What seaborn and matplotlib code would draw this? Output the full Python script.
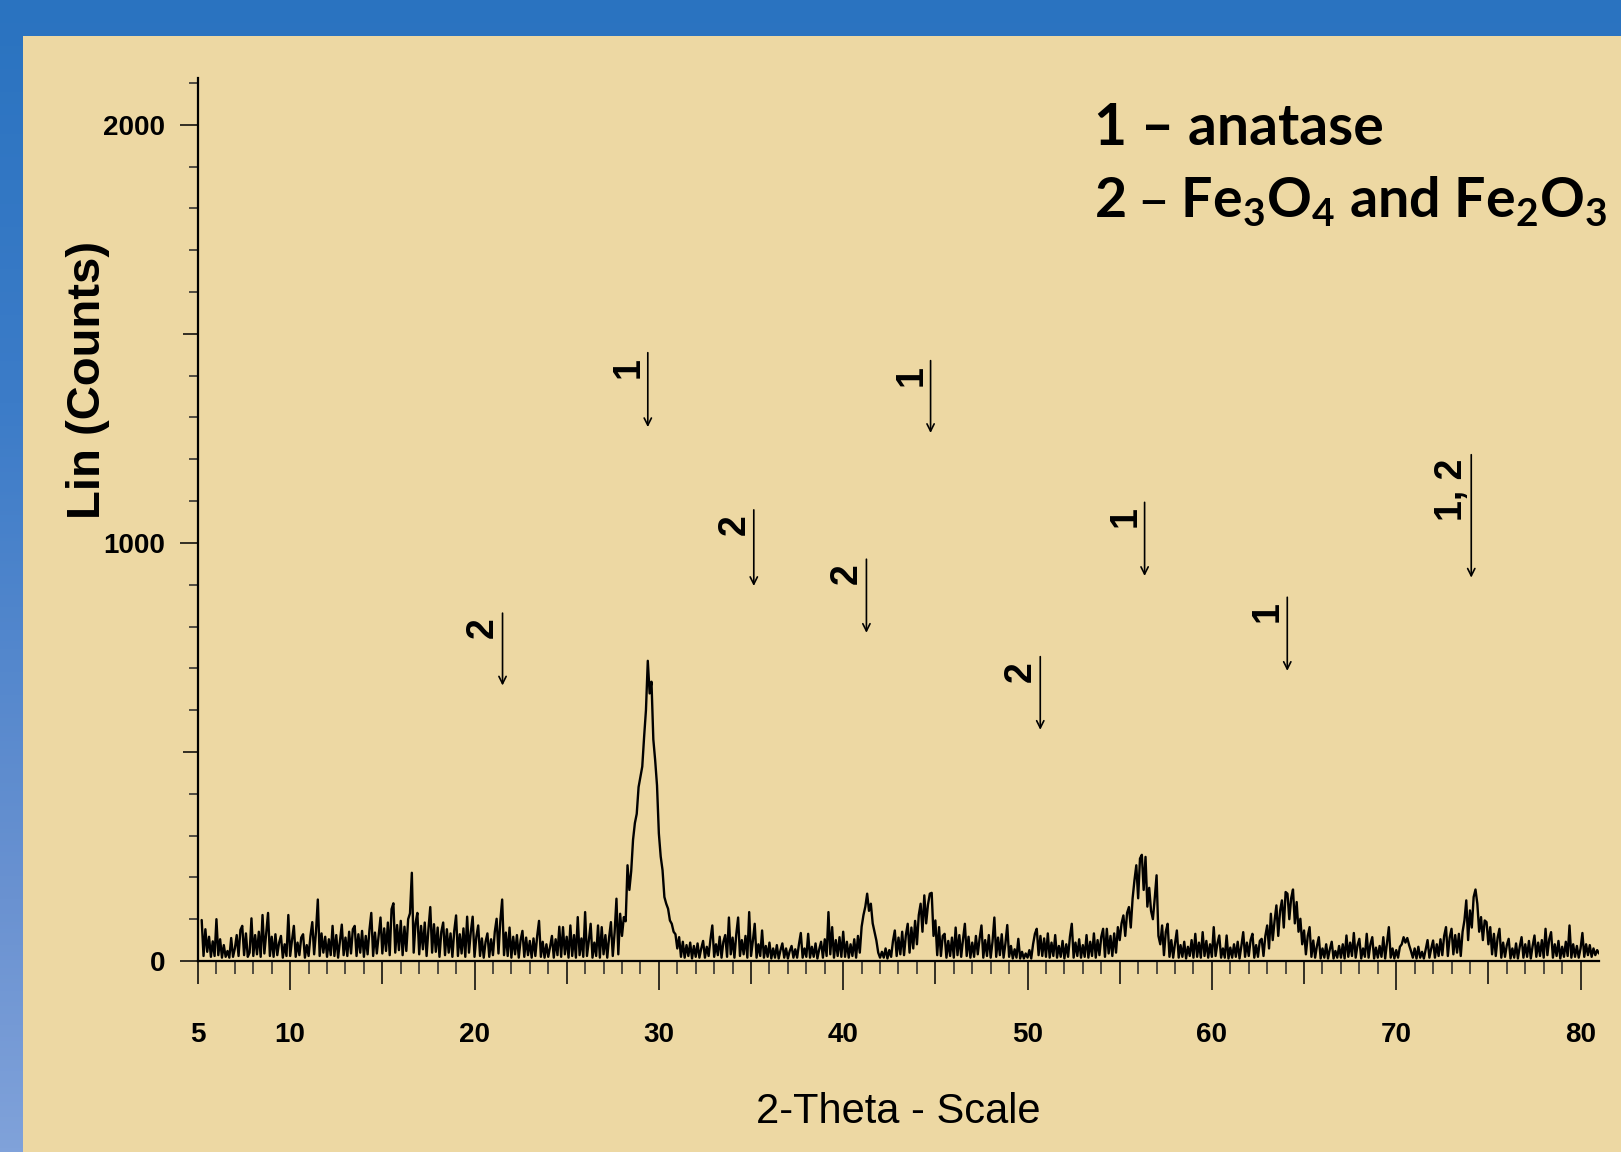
import numpy as np
import pandas as pd
import matplotlib
matplotlib.use("Agg")
import matplotlib.pyplot as plt
from matplotlib.patches import Rectangle
import seaborn as sns

# ---------------- data ----------------
# XRD counts, step 0.1 deg, each list starts at the given 2-theta
seg_05_start = 5.2
seg_05 = [98, 12, 76, 22, 58, 10, 47, 12,
          100, 14, 52, 8, 38, 10, 24, 8, 55, 10,
          30, 62, 12, 74, 84, 14, 66, 10, 20, 102,
          12, 62, 16, 70, 10, 110, 18, 68, 115, 12,
          58, 10, 64, 14, 44, 60, 8, 40, 12, 110]
seg_10_start = 10.0
seg_10 = [12, 50, 84, 10, 44, 14, 56, 64, 8, 38,
          12, 60, 93, 16, 70, 147, 12, 66, 20, 58,
          10, 52, 14, 84, 12, 62, 8, 48, 87, 14,
          56, 12, 70, 18, 76, 84, 12, 64, 20, 72,
          10, 60, 16, 74, 115, 12, 68, 18, 62, 104]
seg_15_start = 15.0
seg_15 = [18, 78, 24, 92, 14, 124, 138, 20, 86, 26,
          96, 14, 82, 24, 100, 114, 211, 20, 90, 115,
          16, 84, 28, 92, 12, 76, 129, 20, 88, 22,
          80, 10, 70, 92, 14, 76, 20, 66, 10, 72,
          109, 12, 64, 18, 78, 10, 106, 20, 70, 106]
seg_20_start = 20.0
seg_20 = [10, 58, 85, 12, 54, 8, 46, 66, 10, 52,
          14, 70, 101, 18, 96, 147, 14, 68, 12, 80,
          8, 58, 16, 62, 8, 50, 72, 10, 56, 14,
          48, 8, 54, 12, 60, 96, 10, 46, 8, 40,
          10, 34, 60, 8, 52, 14, 82, 10, 81, 16]
seg_25_start = 25.0
seg_25 = [58, 8, 85, 12, 62, 8, 105, 14, 54, 10,
          117, 12, 48, 89, 8, 44, 12, 85, 8, 81,
          16, 62, 8, 56, 93, 12, 68, 149, 16, 113,
          60, 105, 95, 229, 170, 215, 290, 330, 352, 416,
          440, 465, 536, 600, 718, 640, 668, 530, 480, 420]
seg_30_start = 30.0
seg_30 = [305, 250, 217, 153, 137, 125, 97, 89, 70, 64,
          30, 57, 10, 46, 8, 38, 12, 44, 6, 36,
          10, 42, 8, 30, 48, 8, 34, 12, 52, 85,
          10, 40, 14, 58, 8, 46, 62, 10, 104, 16,
          56, 8, 64, 104, 12, 50, 16, 60, 8, 117]
seg_35_start = 35.0
seg_35 = [12, 48, 89, 8, 40, 12, 73, 8, 36, 10,
          44, 6, 30, 8, 38, 6, 26, 42, 8, 30,
          6, 24, 36, 8, 28, 8, 40, 67, 8, 30,
          10, 65, 8, 34, 10, 42, 6, 28, 46, 8,
          52, 12, 117, 16, 81, 8, 50, 12, 57, 10]
seg_40_start = 40.0
seg_40 = [70, 10, 46, 8, 40, 12, 52, 8, 60, 20,
          82, 110, 130, 161, 120, 137, 90, 70, 49, 20,
          8, 22, 8, 30, 6, 26, 10, 48, 73, 12,
          56, 16, 70, 14, 62, 89, 20, 80, 30, 96,
          40, 110, 137, 70, 157, 90, 135, 161, 163, 60]
seg_45_start = 45.0
seg_45 = [97, 14, 81, 12, 60, 65, 8, 48, 12, 56,
          8, 80, 14, 62, 10, 52, 89, 12, 58, 8,
          44, 10, 60, 16, 54, 85, 8, 50, 12, 62,
          8, 46, 104, 10, 56, 14, 64, 8, 42, 86,
          10, 36, 6, 28, 8, 53, 6, 22, 6, 18]
seg_50_start = 50.0
seg_50 = [8, 26, 6, 40, 65, 77, 14, 60, 12, 54,
          10, 66, 8, 44, 12, 62, 8, 36, 10, 48,
          6, 40, 10, 58, 89, 8, 44, 12, 52, 8,
          38, 10, 62, 8, 46, 12, 66, 8, 50, 14,
          58, 77, 10, 77, 18, 60, 12, 66, 20, 81]
seg_55_start = 55.0
seg_55 = [50, 90, 109, 60, 115, 129, 80, 150, 193, 229,
          150, 245, 254, 170, 249, 130, 175, 120, 100, 150,
          205, 60, 40, 85, 14, 70, 89, 10, 50, 8,
          42, 73, 8, 38, 10, 46, 6, 34, 12, 50,
          8, 65, 10, 44, 8, 69, 12, 48, 8, 40]
seg_60_start = 60.0
seg_60 = [10, 81, 12, 42, 61, 8, 30, 8, 61, 6,
          32, 8, 40, 10, 46, 6, 36, 69, 10, 44,
          12, 50, 65, 8, 38, 10, 48, 53, 12, 60,
          85, 30, 113, 50, 96, 133, 60, 120, 145, 80,
          165, 161, 100, 150, 171, 90, 141, 70, 101, 40]
seg_65_start = 65.0
seg_65 = [73, 16, 60, 81, 10, 49, 8, 36, 57, 6,
          30, 8, 40, 6, 28, 46, 6, 24, 8, 36,
          8, 40, 6, 61, 10, 44, 12, 67, 8, 38,
          53, 6, 30, 10, 65, 8, 40, 57, 6, 32,
          8, 36, 10, 57, 6, 44, 81, 8, 30, 6]
seg_70_start = 70.0
seg_70 = [26, 8, 34, 40, 57, 44, 55, 38, 24, 8,
          30, 6, 34, 8, 22, 6, 28, 50, 8, 30,
          49, 8, 40, 12, 52, 14, 60, 81, 12, 56,
          77, 16, 62, 20, 65, 12, 70, 97, 145, 50,
          121, 80, 153, 171, 137, 70, 105, 50, 97, 93]
seg_75_start = 75.0
seg_75 = [40, 81, 16, 65, 12, 56, 77, 8, 44, 10,
          38, 53, 6, 30, 8, 42, 6, 34, 57, 8,
          40, 10, 48, 6, 36, 61, 10, 44, 12, 50,
          8, 77, 14, 52, 69, 8, 40, 12, 48, 6,
          34, 10, 46, 12, 85, 8, 40, 10, 36, 8]
seg_80_start = 80.0
seg_80 = [30, 67, 10, 40, 14, 38, 10, 30, 14, 26, 18]

segments = [(seg_05_start, seg_05), (seg_10_start, seg_10), (seg_15_start, seg_15),
            (seg_20_start, seg_20), (seg_25_start, seg_25), (seg_30_start, seg_30),
            (seg_35_start, seg_35), (seg_40_start, seg_40), (seg_45_start, seg_45),
            (seg_50_start, seg_50), (seg_55_start, seg_55), (seg_60_start, seg_60),
            (seg_65_start, seg_65), (seg_70_start, seg_70), (seg_75_start, seg_75),
            (seg_80_start, seg_80)]
step = 0.1

# peak markers
marker_x = [21.52, 29.40, 35.15, 41.26, 44.74, 50.69, 56.35, 64.09, 74.07]
marker_top = [832, 1455, 1079, 961, 1436, 728, 1097, 870, 1211]
marker_bottom = [659, 1277, 897, 785, 1263, 553, 921, 694, 917]
marker_labels = ["2", "1", "2", "2", "1", "2", "1", "1", "1, 2"]

x_major = [5, 10, 15, 20, 25, 30, 35, 40, 45, 50, 55, 60, 65, 70, 75, 80]
x_labels = ["5", "10", "", "20", "", "30", "", "40", "", "50", "", "60", "", "70", "", "80"]
y_major = [0, 500, 1000, 1500, 2000]
y_labels = ["0", "", "1000", "", "2000"]

legend_line1 = "1 \u2013 anatase"
legend_line2 = ("2 \u2013 Fe$_\\mathregular{3}$O$_\\mathregular{4}$ and "
                "Fe$_\\mathregular{2}$O$_\\mathregular{3}$")

# ---------------- build table ----------------
xs, ys = [], []
for start, vals in segments:
    for i, v in enumerate(vals):
        xs.append(round(start + step * i, 2))
        ys.append(v)
df = pd.DataFrame({"two_theta": xs, "counts": ys})

# ---------------- style ----------------
sns.set_theme(style="ticks")
narrow = ["Liberation Sans Narrow", "Liberation Sans", "DejaVu Sans"]
plt.rcParams["font.family"] = narrow
plt.rcParams["axes.unicode_minus"] = False

W, H = 1621, 1152
fig = plt.figure(figsize=(W / 100, H / 100), dpi=100)

# background: blue gradient + parchment panel
bg = fig.add_axes([0, 0, 1, 1], zorder=0)
stops = np.array([0.0, 0.35, 0.78, 1.0])
cols = np.array([[42, 115, 192], [60, 124, 200], [106, 146, 209], [128, 162, 218]]) / 255.0
t = np.linspace(0, 1, 300)
grad = np.stack([np.interp(t, stops, cols[:, k]) for k in range(3)], axis=1)[:, None, :]
bg.imshow(grad, aspect="auto", extent=[0, 1, 0, 1], origin="upper")
bg.add_patch(Rectangle((23 / W, 0), 1 - 23 / W, 1 - 36 / H, facecolor="#EDD8A3",
                       edgecolor="none", transform=bg.transAxes))
bg.set_xlim(0, 1)
bg.set_ylim(0, 1)
bg.axis("off")

# main axes
left, right = 198 / W, 1599 / W
bottom, top = 1 - 961 / H, 1 - 78 / H
ax = fig.add_axes([left, bottom, right - left, top - bottom], zorder=1)
ax.set_facecolor("none")

sns.lineplot(data=df, x="two_theta", y="counts", ax=ax, color="black",
             linewidth=1.7, estimator=None, legend=False)

ax.set_xlim(5, 81)
ax.set_ylim(0, 2112)
for s in ["top", "right"]:
    ax.spines[s].set_visible(False)
for s in ["left", "bottom"]:
    ax.spines[s].set_linewidth(1.6)
    ax.spines[s].set_color("black")

ax.set_xticks(x_major, labels=x_labels)
ax.set_xticks(np.arange(5, 81, 1), minor=True)
ax.set_yticks(y_major, labels=y_labels)
ax.set_yticks(np.arange(0, 2200, 100), minor=True)

ax.tick_params(axis="x", which="major", direction="out", length=20.9, width=1.1,
               pad=23, labelsize=20, colors="black")
ax.tick_params(axis="x", which="minor", direction="out", length=9.6, width=1.1)
ax.tick_params(axis="y", which="major", direction="out", length=13.0, width=1.1,
               pad=10.5, labelsize=20, colors="black")
ax.tick_params(axis="y", which="minor", direction="out", length=6.7, width=1.1)

for tk, loc in zip(ax.xaxis.get_major_ticks(), x_major):
    if loc % 10 != 0:
        tk.tick1line.set_markersize(16.4)
for tk, loc in zip(ax.yaxis.get_major_ticks(), y_major):
    if loc % 1000 != 0:
        tk.tick1line.set_markersize(10.8)
for lbl in ax.get_xticklabels() + ax.get_yticklabels():
    lbl.set_fontweight("bold")
    lbl.set_fontfamily(narrow)

ax.set_xlabel("2-Theta - Scale", fontsize=30, family=narrow, color="black")
ax.xaxis.set_label_coords(0.5, -0.148)
ax.set_ylabel("Lin (Counts)", fontsize=34, fontweight="bold",
              family=["Liberation Sans", "DejaVu Sans"], color="black")
ax.yaxis.set_label_coords(-0.063, 0.658)

# peak markers
for xm, yt, yb, lab in zip(marker_x, marker_top, marker_bottom, marker_labels):
    ax.annotate("", xy=(xm, yb), xytext=(xm, yt),
                arrowprops=dict(arrowstyle="->", lw=1.2, color="black",
                                mutation_scale=13, shrinkA=0, shrinkB=0))
    ax.annotate(lab, xy=(xm, yt), xytext=(-1, -3), textcoords="offset points",
                rotation=90, ha="right", va="top", fontsize=27, fontweight="bold",
                family=["Liberation Sans", "DejaVu Sans"], color="black")

# legend text
fig.text(1094 / W, 1 - 145 / H, legend_line1, fontsize=41, fontweight="bold",
         family=["Lato", "DejaVu Sans"], va="baseline", ha="left", color="black")
fig.text(1094 / W, 1 - 217 / H, legend_line2, fontsize=40, fontweight="bold",
         family=["Lato", "DejaVu Sans"], va="baseline", ha="left", color="black")

fig.savefig("out.png", dpi=100)
